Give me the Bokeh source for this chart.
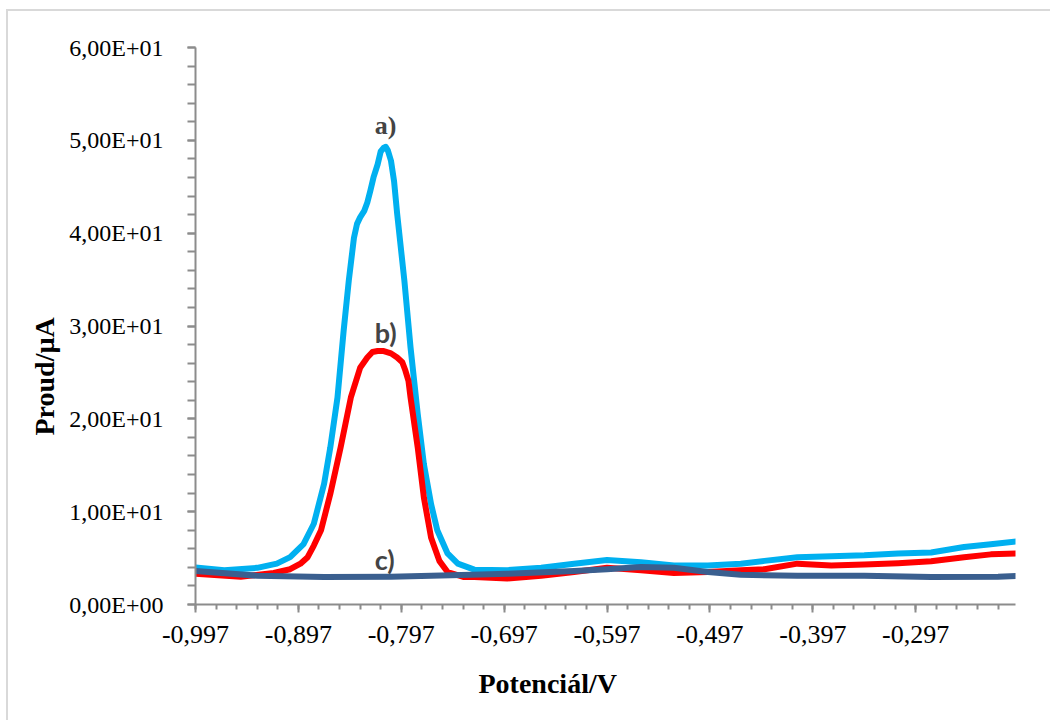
import math
from bokeh.plotting import figure
from bokeh.models import FixedTicker, Range1d, Label, Title
from bokeh.embed import file_html
from bokeh.resources import INLINE

# ---- data ----
x_a = [-0.997, -0.969, -0.937, -0.918, -0.905, -0.892, -0.882, -0.872, -0.866, -0.859,
       -0.853, -0.848, -0.843, -0.840, -0.837, -0.833, -0.830, -0.827, -0.824, -0.820,
       -0.817, -0.814, -0.812, -0.810, -0.807, -0.804, -0.801, -0.794,
       -0.788, -0.781, -0.775, -0.768, -0.762, -0.752, -0.742, -0.726, -0.694, -0.661,
       -0.629, -0.597, -0.564, -0.532, -0.499, -0.467, -0.444, -0.412, -0.379, -0.347,
       -0.314, -0.282, -0.250, -0.224, -0.199]
y_a = [4.0, 3.7, 3.95, 4.4, 5.1, 6.5, 8.7, 13.0, 16.9, 22.3,
       29.5, 34.9, 39.5, 41.0, 41.7, 42.4, 43.3, 44.6, 46.0, 47.4,
       48.8, 49.2, 49.3, 48.9, 47.8, 45.6, 42.1, 34.9,
       27.7, 20.5, 15.1, 10.8, 8.0, 5.5, 4.4, 3.75, 3.7, 3.95,
       4.4, 4.8, 4.55, 4.2, 4.2, 4.4, 4.7, 5.1, 5.2, 5.3,
       5.5, 5.6, 6.2, 6.5, 6.8]

x_b = [-0.997, -0.953, -0.921, -0.905, -0.895, -0.888, -0.882, -0.875, -0.866, -0.856,
       -0.846, -0.837, -0.830, -0.825, -0.820, -0.814, -0.807, -0.801, -0.796, -0.793,
       -0.790, -0.788, -0.781, -0.775, -0.768, -0.760, -0.752,
       -0.736, -0.726, -0.694, -0.661, -0.629, -0.597, -0.564, -0.532, -0.499, -0.467,
       -0.444, -0.412, -0.379, -0.347, -0.314, -0.282, -0.250, -0.224, -0.199]
y_b = [3.3, 3.0, 3.4, 3.8, 4.4, 5.1, 6.35, 8.0, 11.9, 16.9,
       22.3, 25.5, 26.6, 27.2, 27.3, 27.3, 27.05, 26.6, 26.1, 25.2,
       24.1, 22.3, 16.9, 11.5, 7.2, 4.7, 3.5,
       2.95, 2.95, 2.8, 3.1, 3.5, 3.95, 3.7, 3.4, 3.5, 3.7,
       3.8, 4.4, 4.2, 4.3, 4.45, 4.65, 5.1, 5.4, 5.5]

x_c = [-0.997, -0.937, -0.872, -0.807, -0.729, -0.694, -0.629, -0.597, -0.564, -0.532,
       -0.499, -0.467, -0.412, -0.347, -0.282, -0.217, -0.194]
y_c = [3.6, 3.1, 2.95, 3.0, 3.2, 3.3, 3.6, 3.8, 4.05, 3.95,
       3.5, 3.2, 3.1, 3.1, 2.95, 3.0, 3.1]

x_ticks = [-0.997, -0.897, -0.797, -0.697, -0.597, -0.497, -0.397, -0.297]
x_tick_labels = ["-0,997", "-0,897", "-0,797", "-0,697", "-0,597", "-0,497", "-0,397", "-0,297"]
y_ticks = [0, 10, 20, 30, 40, 50, 60]
y_tick_labels = ["0,00E+00", "1,00E+01", "2,00E+01", "3,00E+01", "4,00E+01", "5,00E+01", "6,00E+01"]

X_MIN, X_MAX = -0.997, -0.2
SERIF = "Liberation Serif"

p = figure(width=1044, height=711, output_backend="svg", toolbar_location=None,
           x_range=Range1d(X_MIN, X_MAX), y_range=Range1d(0, 60),
           min_border_left=187, min_border_right=37, min_border_top=36, min_border_bottom=118)
p.styles = {"border-top": "2px solid #d9d9d9", "border-left": "2px solid #d9d9d9",
            "margin-left": "6px", "margin-top": "9px"}
p.outline_line_color = None
p.grid.visible = False
p.background_fill_color = "white"
p.border_fill_color = "white"

x_minor = [round(X_MIN + 0.02 * i, 3) for i in range(40) if X_MIN + 0.02 * i <= X_MAX + 1e-9]
y_minor = list(range(0, 61, 2))
p.xaxis.ticker = FixedTicker(ticks=x_ticks, minor_ticks=x_minor)
p.yaxis.ticker = FixedTicker(ticks=y_ticks, minor_ticks=y_minor)
p.xaxis.major_label_overrides = {t: l for t, l in zip(x_ticks, x_tick_labels)}
p.yaxis.major_label_overrides = {t: l for t, l in zip(y_ticks, y_tick_labels)}

axis_color = "#8c8c8c"
for ax in (p.xaxis[0], p.yaxis[0]):
    ax.axis_line_color = axis_color
    ax.axis_line_width = 2
    ax.major_tick_line_color = axis_color
    ax.minor_tick_line_color = axis_color
    ax.major_tick_line_width = 2
    ax.minor_tick_line_width = 2
    ax.major_tick_in = 0
    ax.minor_tick_in = 0
    ax.major_label_text_font = SERIF
    ax.major_label_text_color = "black"

p.xaxis.major_tick_out = 8
p.xaxis.minor_tick_out = 5
p.xaxis.major_label_text_font_size = "26px"
p.xaxis.major_label_standoff = 13
p.yaxis.major_tick_out = 8
p.yaxis.minor_tick_out = 8
p.yaxis.major_label_text_font_size = "24px"
p.yaxis.major_label_standoff = 24

p.line(x_a, y_a, line_color="#00B0F0", line_width=6, line_join="round", line_cap="round")
p.line(x_b, y_b, line_color="#FF0000", line_width=6, line_join="round", line_cap="round")
p.line(x_c, y_c, line_color="#3A5F8F", line_width=6, line_join="round", line_cap="round")

# curve labels
p.add_layout(Label(x=-0.8122, y=51.6, text="a)", text_font=SERIF, text_font_style="bold",
                   text_font_size="26px", text_align="center", text_baseline="middle"))
p.add_layout(Label(x=-0.8122, y=29.3, text="b)", text_font="Lato", text_font_style="bold",
                   text_font_size="27px", text_align="center", text_baseline="middle"))
p.add_layout(Label(x=-0.8131, y=4.8, text="c)", text_font="Lato", text_font_style="bold",
                   text_font_size="27px", text_align="center", text_baseline="middle"))

# axis titles
p.add_layout(Title(text="Potenciál/V", text_font=SERIF, text_font_style="bold",
                   text_font_size="28px", align="left", offset=283, standoff=40,
                   text_color="black"), "below")
p.add_layout(Title(text="Proud/µA", text_font=SERIF, text_font_style="bold",
                   text_font_size="28px", align="left", offset=169, standoff=13,
                   text_color="black"), "left")

open("out.html", "w").write(file_html(p, INLINE))
